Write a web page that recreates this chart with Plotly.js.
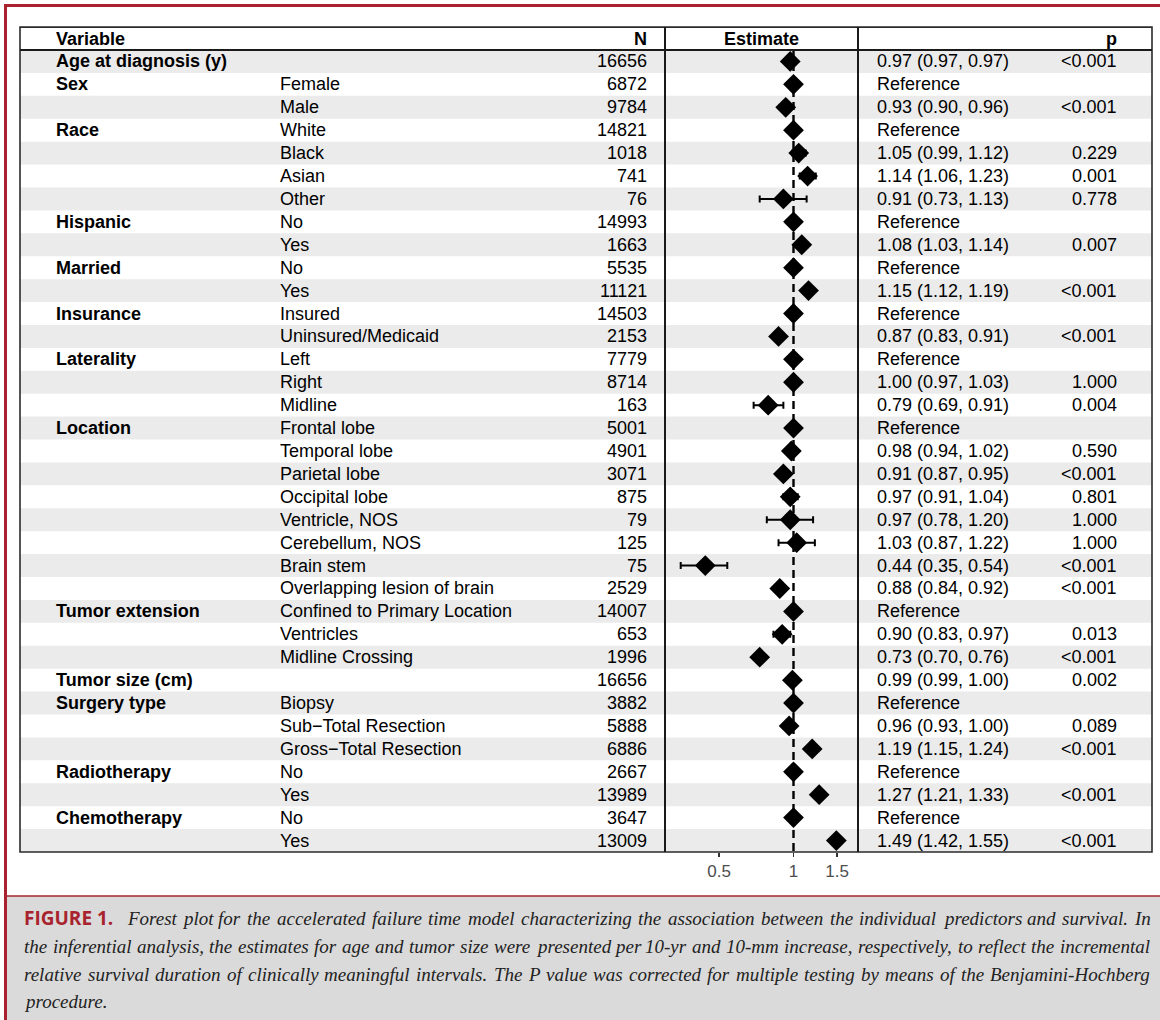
<!DOCTYPE html>
<html>
<head>
<meta charset="utf-8">
<script src="https://cdn.plot.ly/plotly-3.0.1.min.js"></script>
<style>
  html, body { margin: 0; padding: 0; background: #fff; }
  #chart { width: 1160px; height: 1020px; }
</style>
</head>
<body>
<div id="chart"></div>
<script>
// ---- Model results: one entry per table row ----
const variables = [
  "Age at diagnosis (y)", "Sex", "", "Race", "", "", "", "Hispanic", "", "Married", "",
  "Insurance", "", "Laterality", "", "", "Location", "", "", "", "", "", "", "",
  "Tumor extension", "", "", "Tumor size (cm)", "Surgery type", "", "", "Radiotherapy", "",
  "Chemotherapy", ""
];
const levels = [
  "", "Female", "Male", "White", "Black", "Asian", "Other", "No", "Yes", "No", "Yes",
  "Insured", "Uninsured/Medicaid", "Left", "Right", "Midline", "Frontal lobe", "Temporal lobe",
  "Parietal lobe", "Occipital lobe", "Ventricle, NOS", "Cerebellum, NOS", "Brain stem",
  "Overlapping lesion of brain", "Confined to Primary Location", "Ventricles", "Midline Crossing",
  "", "Biopsy", "Sub\u2212Total Resection", "Gross\u2212Total Resection", "No", "Yes", "No", "Yes"
];
const counts = [
  16656, 6872, 9784, 14821, 1018, 741, 76, 14993, 1663, 5535, 11121,
  14503, 2153, 7779, 8714, 163, 5001, 4901, 3071, 875, 79, 125, 75, 2529,
  14007, 653, 1996, 16656, 3882, 5888, 6886, 2667, 13989, 3647, 13009
];
// null estimate bounds mark the reference level of a variable (estimate 1)
const estimates = [
  0.97, 1, 0.93, 1, 1.05, 1.14, 0.91, 1, 1.08, 1, 1.15,
  1, 0.87, 1, 1.00, 0.79, 1, 0.98, 0.91, 0.97, 0.97, 1.03, 0.44, 0.88,
  1, 0.90, 0.73, 0.99, 1, 0.96, 1.19, 1, 1.27, 1, 1.49
];
const lower = [
  0.97, null, 0.90, null, 0.99, 1.06, 0.73, null, 1.03, null, 1.12,
  null, 0.83, null, 0.97, 0.69, null, 0.94, 0.87, 0.91, 0.78, 0.87, 0.35, 0.84,
  null, 0.83, 0.70, 0.99, null, 0.93, 1.15, null, 1.21, null, 1.42
];
const upper = [
  0.97, null, 0.96, null, 1.12, 1.23, 1.13, null, 1.14, null, 1.19,
  null, 0.91, null, 1.03, 0.91, null, 1.02, 0.95, 1.04, 1.20, 1.22, 0.54, 0.92,
  null, 0.97, 0.76, 1.00, null, 1.00, 1.24, null, 1.33, null, 1.55
];
const pValues = [
  "<0.001", "", "<0.001", "", "0.229", "0.001", "0.778", "", "0.007", "", "<0.001",
  "", "<0.001", "", "1.000", "0.004", "", "0.590", "<0.001", "0.801", "1.000", "1.000", "<0.001", "<0.001",
  "", "0.013", "<0.001", "0.002", "", "0.089", "<0.001", "", "<0.001", "", "<0.001"
];
const headers = ["Variable", "N", "Estimate", "p"];
const axisTicks = [0.5, 1, 1.5];
const axisTickText = ["0.5", "1", "1.5"];
const refValue = 1;

const captionLead = "FIGURE 1.";
const captionLines = [
  "Forest plot for the accelerated failure time model characterizing the association between the individual predictors and survival. In",
  "the inferential analysis, the estimates for age and tumor size were presented per 10-yr and 10-mm increase, respectively, to reflect the incremental",
  "relative survival duration of clinically meaningful intervals. The P value was corrected for multiple testing by means of the Benjamini-Hochberg",
  "procedure."
];

// ---- Page geometry (pixels) ----
const W = 1160, H = 1020;
const px = v => v / W;
const py = v => 1 - v / H;
const nRows = estimates.length;
const rowIdx = estimates.map((_, i) => i);

const tableLeft = 20, tableRight = 1152;
const estLeft = 665, estRight = 858;
const colVar = 55, colLevel = 279, colN = 648, colCI = 876, colP = 1118;
const estCenter = (estLeft + estRight) / 2;

const red = "#a8232d";
const sans = "Liberation Sans, Arial, Helvetica, sans-serif";
const txtFont = { family: sans, size: 18, color: "#000" };
const boldFont = { family: sans, size: 18, color: "#000", weight: 700 };

// ---- Shapes: row bands, table rules, page frame ----
const shapes = [];
rowIdx.forEach(i => {
  if (i % 2 === 0) {
    shapes.push({ type: "rect", xref: "paper", yref: "y", layer: "below",
      x0: px(tableLeft), x1: px(tableRight), y0: i - 0.5, y1: i + 0.5,
      fillcolor: "#ebebeb", line: { width: 0 } });
  }
});
const rule = { color: "#2b2b2b", width: 1.6 };
shapes.push({ type: "rect", xref: "paper", yref: "y", layer: "above",
  x0: px(tableLeft), x1: px(tableRight), y0: -1.5, y1: nRows - 0.5, line: rule });
shapes.push({ type: "line", xref: "paper", yref: "y", layer: "above",
  x0: px(tableLeft), x1: px(tableRight), y0: -0.5, y1: -0.5, line: { color: "#1a1a1a", width: 2.2 } });
[estLeft, estRight].forEach(xv => shapes.push({ type: "line", xref: "paper", yref: "y", layer: "above",
  x0: px(xv), x1: px(xv), y0: -1.5, y1: nRows - 0.5, line: { color: "#1a1a1a", width: 2 } }));
// caption box and red frame
shapes.push({ type: "rect", xref: "paper", yref: "paper", layer: "above",
  x0: px(5), x1: 1, y0: 0, y1: py(896), fillcolor: "#dadada", line: { width: 0 } });
shapes.push({ type: "line", xref: "paper", yref: "paper", layer: "above",
  x0: px(5), x1: 1, y0: py(896), y1: py(896), line: { color: red, width: 1.6 } });
shapes.push({ type: "line", xref: "paper", yref: "paper", layer: "above",
  x0: px(4), x1: 1, y0: py(5.5), y1: py(5.5), line: { color: red, width: 3 } });
shapes.push({ type: "line", xref: "paper", yref: "paper", layer: "above",
  x0: px(5.5), x1: px(5.5), y0: 0, y1: py(4), line: { color: red, width: 3 } });

// ---- Table text ----
const annotations = [];
function cell(text, xPix, row, anchor, font) {
  if (!text) return;
  annotations.push({ text: text, xref: "paper", yref: "y", x: px(xPix), y: row,
    xanchor: anchor, yanchor: "middle", showarrow: false, font: font, borderpad: 0 });
}
cell(headers[0], colVar, -1, "left", boldFont);
cell(headers[1], colN, -1, "right", boldFont);
cell(headers[2], estCenter, -1, "center", boldFont);
cell(headers[3], colP, -1, "right", boldFont);
rowIdx.forEach(i => {
  cell(variables[i], colVar, i, "left", boldFont);
  cell(levels[i], colLevel, i, "left", txtFont);
  cell(String(counts[i]), colN, i, "right", txtFont);
  const ci = lower[i] === null ? "Reference"
    : estimates[i].toFixed(2) + " (" + lower[i].toFixed(2) + ", " + upper[i].toFixed(2) + ")";
  cell(ci, colCI, i, "left", txtFont);
  cell(pValues[i], colP, i, "right", txtFont);
});

// ---- Caption, justified word by word ----
const ctx = document.createElement("canvas").getContext("2d");
const capSize = 19;
const capFamily = "Liberation Serif";
const capColor = "#222";
ctx.font = "italic " + capSize + "px '" + capFamily + "'";
const capY = [918, 946, 974, 1001];
const capRight = 1149;
annotations.push({ text: "<b>" + captionLead + "</b>", xref: "paper", yref: "paper",
  x: px(23), y: py(capY[0]), xanchor: "left", yanchor: "middle", showarrow: false, borderpad: 0,
  font: { family: "Open Sans, sans-serif", size: 19, color: red } });
captionLines.forEach((line, li) => {
  const start = li === 0 ? 126 : 23;
  const words = line.split(" ");
  const widths = words.map(w => ctx.measureText(w).width);
  const total = widths.reduce((a, b) => a + b, 0);
  const space = ctx.measureText(" ").width;
  const last = li === captionLines.length - 1;
  const gap = (last || words.length < 2) ? space
    : Math.max(space * 0.6, (capRight - start - total) / (words.length - 1));
  let x = start;
  words.forEach((w, wi) => {
    annotations.push({ text: "<i>" + w + "</i>", xref: "paper", yref: "paper",
      x: px(x), y: py(capY[li]), xanchor: "left", yanchor: "middle", showarrow: false, borderpad: 0,
      font: { family: capFamily, size: capSize, color: capColor } });
    x += widths[wi] + gap;
  });
});

// ---- Forest plot traces ----
const plus = estimates.map((e, i) => upper[i] === null ? null : upper[i] - e);
const minus = estimates.map((e, i) => lower[i] === null ? null : e - lower[i]);

const traces = [
  {
    type: "scatter", mode: "lines", x: [refValue, refValue], y: [-0.5, nRows - 0.5],
    line: { color: "#000", width: 2.4, dash: "8px,5px" }, hoverinfo: "skip", cliponaxis: false
  },
  {
    type: "scatter", mode: "markers", x: estimates, y: rowIdx,
    marker: { symbol: "diamond", size: 16, color: "#000", line: { width: 0 } },
    error_x: { type: "data", symmetric: false, array: plus, arrayminus: minus,
      color: "#000", thickness: 2, width: 3.5 },
    cliponaxis: false
  }
];

const layout = {
  width: W, height: H,
  margin: { l: 0, r: 0, t: 0, b: 0, pad: 0 },
  paper_bgcolor: "#fff", plot_bgcolor: "rgba(0,0,0,0)",
  showlegend: false,
  font: { family: sans, color: "#000" },
  xaxis: {
    type: "log", domain: [px(estLeft), px(estRight)], range: [-0.5194, 0.2607],
    anchor: "free", position: py(852),
    tickvals: axisTicks, ticktext: axisTickText,
    ticks: "outside", ticklen: 4, tickwidth: 1.2, tickcolor: "#333",
    tickfont: { family: sans, size: 17, color: "#4d4d4d" },
    showgrid: false, zeroline: false, showline: false, fixedrange: true
  },
  yaxis: {
    domain: [0, 1], range: [41.832, -2.682], visible: false, fixedrange: true
  },
  shapes: shapes,
  annotations: annotations
};

Plotly.newPlot("chart", traces, layout, { staticPlot: true, displayModeBar: false });
</script>
</body>
</html>
